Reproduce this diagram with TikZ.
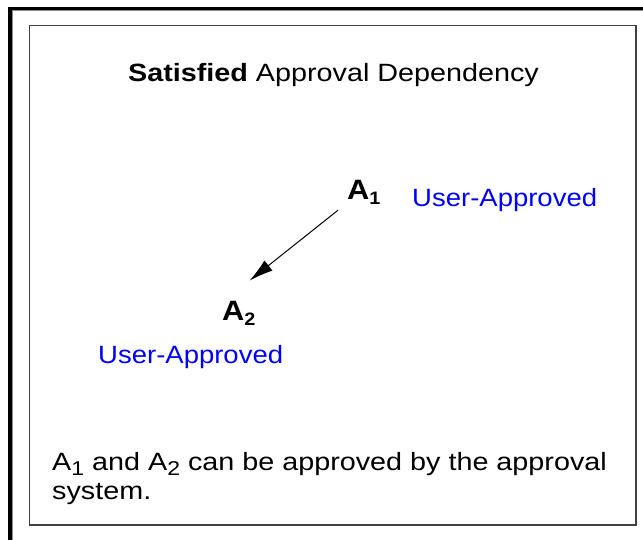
\documentclass[tikz,border=0pt]{standalone}
\usepackage{fontspec}
\setmainfont{Liberation Sans}[FakeStretch=1.1]
\newfontfamily\widefont{Liberation Sans}[FakeStretch=1.15]
\usetikzlibrary{arrows.meta,positioning}

\newcommand{\actsub}[1]{\raisebox{-5pt}{\fontsize{18}{18}\selectfont #1}}
\newcommand{\lowsub}[1]{\raisebox{-5pt}{\fontsize{20}{20}\selectfont #1}}

\begin{document}
\begin{tikzpicture}[x=1pt,y=-1pt,
  lbl/.style={font=\fontsize{25}{27}\selectfont,inner sep=0pt},
  widelbl/.style={font=\widefont\fontsize{25}{27}\selectfont,inner sep=0pt},
  approved/.style={lbl,text=blue},
  act/.style={font=\fontsize{28}{30}\selectfont\bfseries,inner sep=0pt}]
  \useasboundingbox (0,0) rectangle (643,540);
  % frame
  \draw[line width=3.4pt] (10,540) -- (10,8.3) -- (643,8.3);
  \draw[black!45,line width=1pt] (12.2,540) -- (12.2,10.5) -- (643,10.5);
  \draw[black!75,line width=1.8pt] (29.5,25.5) rectangle (636.3,525.3);

  \node[widelbl,anchor=base] (title) at (333.5,82) {\textbf{Satisfied} Approval Dependency};

  % activities
  \node[act,anchor=base west] (a1) at (347,200) {A\actsub{1}};
  \node[act,anchor=base west] (a2) at (222,320) {A\actsub{2}};
  \node[approved,anchor=base west] (a1state) at (412,207) {User-Approved};
  \node[approved,anchor=base west] (a2state) at (98,363) {User-Approved};

  \draw[-{Latex[length=24pt,width=13pt]},line width=1pt]
    ([shift={(-9,5)}]a1.south west) -- ([shift={(-6,-20)}]a2.north east);

  \node[widelbl,anchor=north west,align=left] (note) at (52,452)
    {A\lowsub{1} and A\lowsub{2} can be approved by the approval\\[2pt]system.};
\end{tikzpicture}
\end{document}
